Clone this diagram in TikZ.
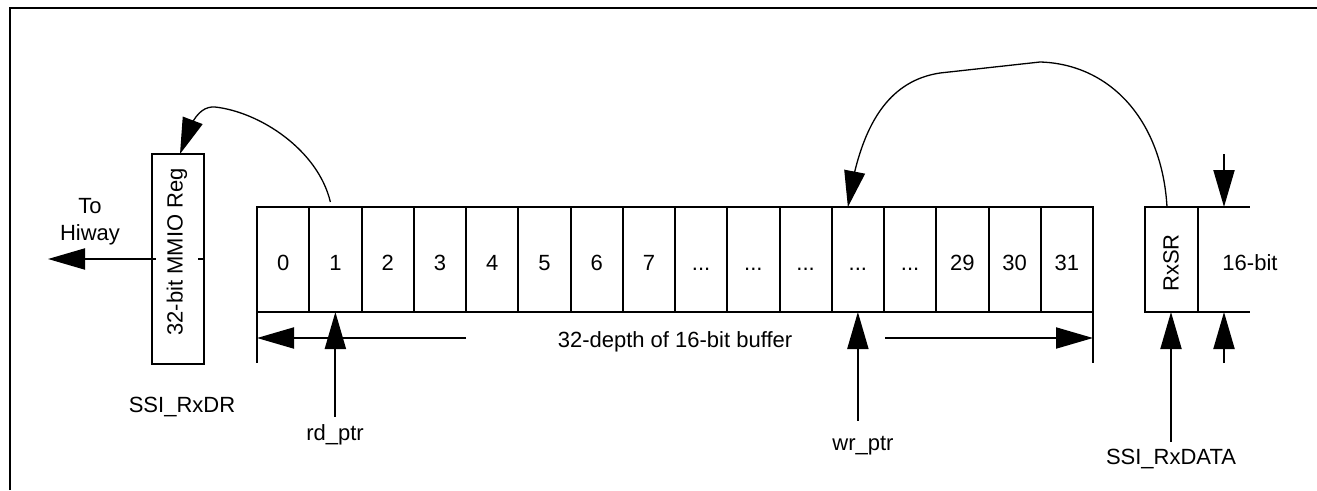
\documentclass[tikz,border=0pt]{standalone}
\usepackage{fontspec}
\setmainfont{Liberation Sans}
\usetikzlibrary{arrows.meta,bending}
\newcommand\celldots{...}
\begin{document}
\begin{tikzpicture}[x=1pt,y=-1pt,
  every node/.style={font=\fontsize{22}{27}\selectfont, inner sep=0pt, outer sep=0pt},
  box/.style={draw, line width=2pt},
  cell/.style={box, minimum width=52.25pt, minimum height=105pt, text height=22.8pt, text depth=0pt},
  conn/.style={line width=2pt, -{Triangle[length=37pt,width=21pt]}},
  curv/.style={line width=1.3pt, -{Triangle[length=36pt,width=21pt]}},
  plain/.style={line width=2pt}
]
\useasboundingbox (0,0) rectangle (1317,490);
% frame
\draw[line width=2.2pt] (10,490) -- (10,8) -- (1317,8);

% buffer cells
\foreach \lab [count=\i from 0] in {0,1,2,3,4,5,6,7,\celldots,\celldots,\celldots,\celldots,\celldots,29,30,31}
  \node[cell] (c\i) at ({257+52.25*(\i+0.5)},259.5) {\lab};

% RxSR and 16-bit
\node[box, minimum width=53pt, minimum height=105pt] (rx) at (1171.5,259.5) {};
\node[rotate=90] (rxt) at (1171,263) {RxSR};
\coordinate (bt) at (1250,207);
\coordinate (bb) at (1250,312);
\draw[plain] (rx.north east) -- (bt);
\draw[plain] (rx.south east) -- (bb);
\node (w16) at (1250,263) {16-bit};
\coordinate (a16t) at (1224,154);
\coordinate (a16b) at (1224,363);
\draw[conn] (a16t) -- (a16t |- rx.north);
\draw[conn] (a16b) -- (a16b |- rx.south);
\node (rxd) at (1171,459) {SSI\_RxDATA};
\coordinate (rxds) at ([yshift=7pt]rxd.north);
\draw[conn] (rxds) -- (rxds |- rx.south);

% MMIO register
\node[box, minimum width=52pt, minimum height=210pt] (reg) at (178,259) {};
\coordinate (hw) at (48,259);
\draw[conn] (reg.east) -- (hw);
\node[rotate=90, fill=white, inner sep=11pt] (regt) at (177,252) {32-bit MMIO Reg};
\node[align=center] (th) at (90,222) {To\\Hiway};
\node (rxdr) at (182,407) {SSI\_RxDR};

% pointers
\node (rd) at (335,435) {rd\_ptr};
\coordinate (rds) at ([yshift=8pt]rd.north);
\draw[conn] (rds -| c1.south) -- (c1.south);
\node (wr) at (863,446) {wr\_ptr};
\coordinate (wrs) at ([yshift=16pt]wr.north);
\draw[conn] (wrs -| c11.south) -- (c11.south);

% dimension
\node (dim) at (675,341.5) {32-depth of 16-bit buffer};
\draw[plain] (c0.south west) -- ++(0,51);
\draw[plain] (c15.south east) -- ++(0,51);
\coordinate (dl) at (466,338);
\coordinate (dr) at (885,338);
\draw[conn] (dl) -- (dl -| c0.west);
\draw[conn] (dr) -- (dr -| c15.east);

% curved transfers
\draw[curv] ([xshift=-5pt,yshift=5pt]c1.north) .. controls (318,150) and (260,112) .. (215,107)
  .. controls (200,106) and (190,120) .. ([xshift=2pt]reg.north);
\draw[curv] ([xshift=-4.5pt]rx.north) .. controls (1162,120) and (1110,64) .. (1040,62)
  -- (940,73) .. controls (880,82) and (858,140) .. ([xshift=-10pt]c11.north);
\end{tikzpicture}
\end{document}
